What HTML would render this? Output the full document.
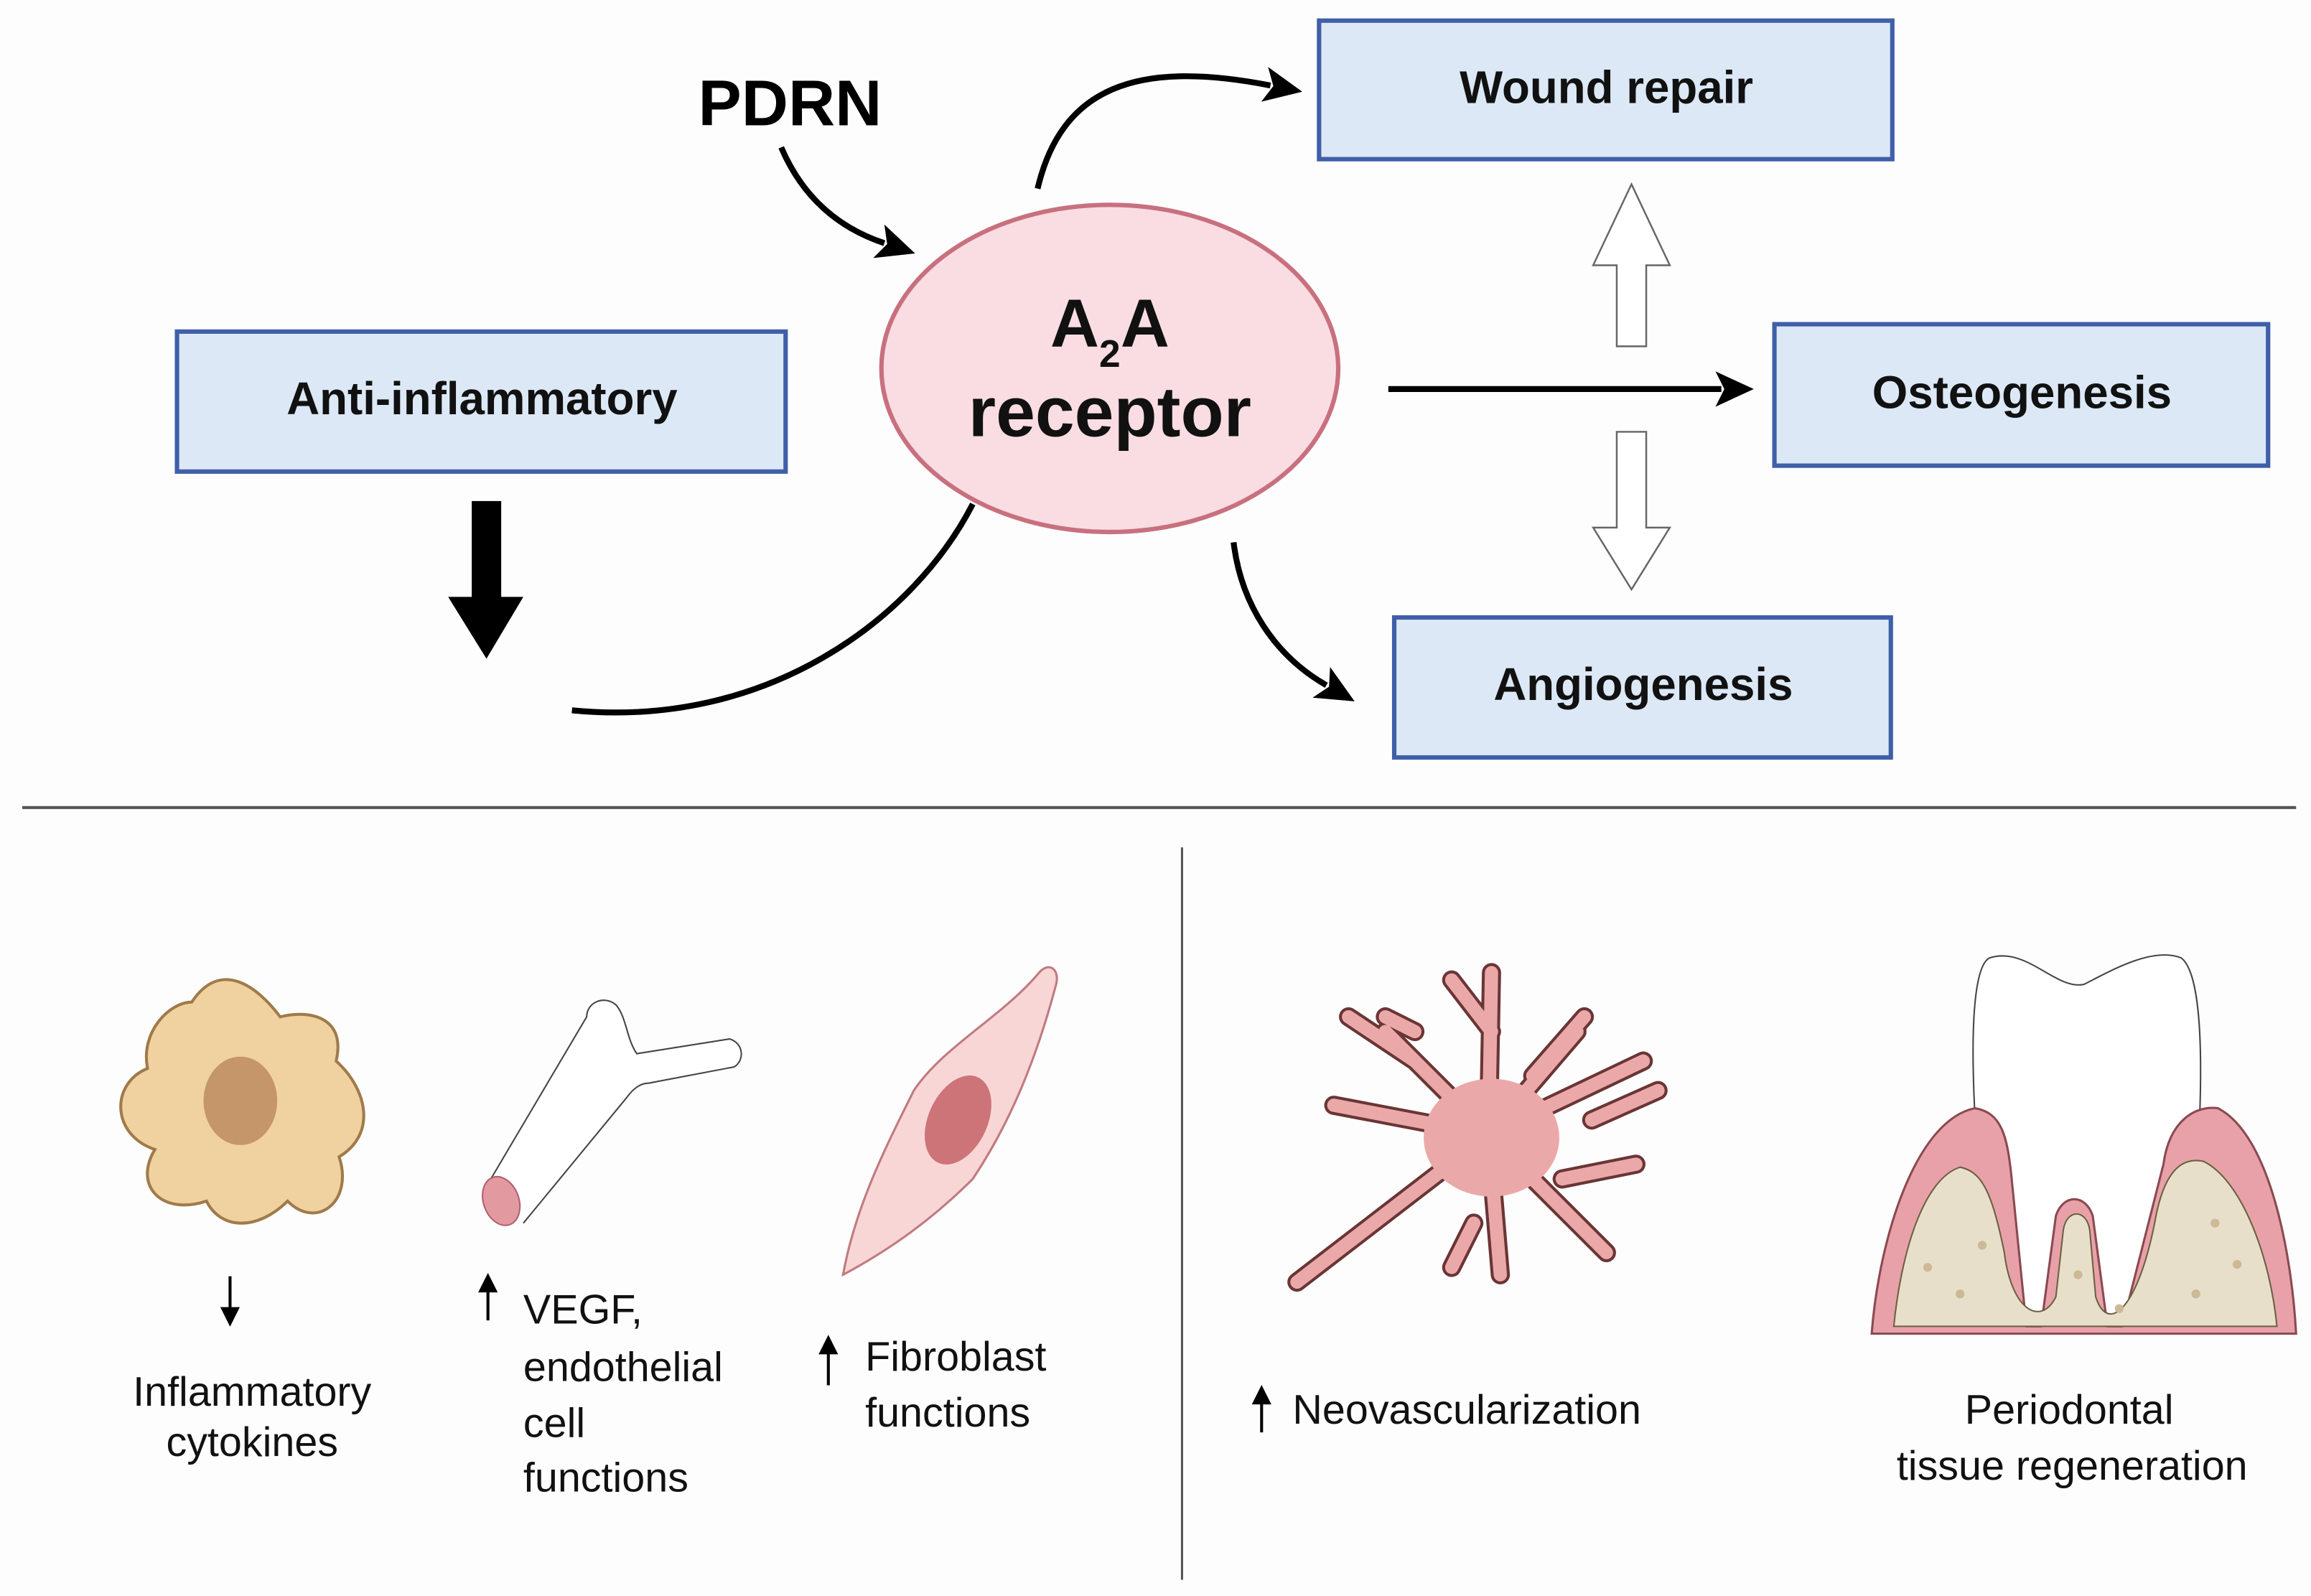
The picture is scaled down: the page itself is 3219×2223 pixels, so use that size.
<!DOCTYPE html>
<html><head><meta charset="utf-8"><style>
html,body{margin:0;padding:0;background:#fdfdfd}
svg{display:block}
text{font-family:"Liberation Sans",sans-serif}
</style></head><body>
<svg width="3219" height="2223" viewBox="0 0 1568 1083" xmlns="http://www.w3.org/2000/svg">
<defs>
<marker id="ah2" markerWidth="26" markerHeight="24" refX="4" refY="12" orient="auto" markerUnits="userSpaceOnUse">
<path d="M0,0 L26,12 L0,24 L6,12 Z" fill="#000"/></marker>
</defs>
<rect width="1568" height="1083" fill="#fdfdfd"/>
<g fill="#dce8f5" stroke="#3f5fa8" stroke-width="3">
<rect x="895" y="14" width="389" height="94"/>
<rect x="120" y="225" width="413" height="95"/>
<rect x="1204" y="220" width="335" height="96"/>
<rect x="946" y="419" width="337" height="95"/>
</g>
<g font-weight="bold" font-size="31" text-anchor="middle" fill="#111">
<text x="1090" y="70">Wound repair</text>
<text x="327" y="281">Anti-inflammatory</text>
<text x="1372" y="277">Osteogenesis</text>
<text x="1115" y="475">Angiogenesis</text>
</g>
<text x="536" y="85" font-weight="bold" font-size="44" text-anchor="middle" fill="#000">PDRN</text>
<ellipse cx="753" cy="250" rx="155" ry="111" fill="#f9dde3" stroke="#c8707e" stroke-width="3"/>
<text x="753" y="235" font-weight="bold" font-size="46" text-anchor="middle" fill="#111">A<tspan font-size="26" dy="14">2</tspan><tspan dy="-14">A</tspan></text>
<text x="753" y="296" font-weight="bold" font-size="48" text-anchor="middle" fill="#111">receptor</text>
<g fill="none" stroke="#000" stroke-width="4">
<path d="M530,100 C545,135 570,155 600,165" marker-end="url(#ah2)"/>
<path d="M704,128 C720,60 770,40 862,58" marker-end="url(#ah2)"/>
<path d="M942,264 L1168,264" marker-end="url(#ah2)"/>
<path d="M388,482 C520,495 620,420 660,342"/>
<path d="M837,368 C842,410 865,445 900,465" marker-end="url(#ah2)"/>
</g>
<rect x="320" y="340" width="20" height="66" fill="#000"/>
<path d="M304,405 L355,405 L330,447 Z" fill="#000"/>
<g fill="#fff" stroke="#666" stroke-width="1.2">
<path d="M1097,235 L1097,180 L1081,180 L1107,125 L1133,180 L1117,180 L1117,235 Z"/>
<path d="M1097,293 L1097,358 L1081,358 L1107,400 L1133,358 L1117,358 L1117,293 Z"/>
</g>
<line x1="15" y1="548" x2="1558" y2="548" stroke="#555" stroke-width="2"/>
<line x1="802" y1="575" x2="802" y2="1072" stroke="#555" stroke-width="1.5"/>
<path d="M130,680 C150,650 175,670 190,690 C210,685 235,690 228,720 C250,740 255,770 230,785 C240,815 215,835 195,815 C175,835 150,835 140,815 C110,825 90,805 105,780 C75,770 75,735 100,725 C95,700 115,680 130,680 Z" fill="#f0d1a0" stroke="#a07a4a" stroke-width="2"/>
<ellipse cx="163" cy="747" rx="25" ry="30" fill="#c4966a"/>
<path d="M330,805 L398,690 C398,680 410,675 418,682 C425,690 425,705 432,715 L495,705 C505,708 505,720 498,724 L440,735 C435,735 430,738 425,745 L355,830" fill="#fff" stroke="#444" stroke-width="1"/>
<ellipse cx="340" cy="815" rx="12" ry="17" transform="rotate(-20 340 815)" fill="#e29aa0" stroke="#b06070" stroke-width="1"/>
<path d="M572,865 C580,820 600,780 620,740 C640,710 680,690 705,660 C712,652 720,658 716,670 C700,730 680,770 660,800 C630,830 600,850 572,865 Z" fill="#f9d6d6" stroke="#c07a80" stroke-width="1.5"/>
<ellipse cx="650" cy="760" rx="20" ry="32" transform="rotate(25 650 760)" fill="#cd7478"/>
<g stroke-linecap="round" fill="none">
<path stroke="#6a3535" stroke-width="13" d="M1010,770 L880,870 M1010,770 L940,700 M1010,770 L1012,660 M1010,770 L1070,700 M1010,770 L1115,720 M1010,770 L1090,850 M1010,770 L1018,865 M1010,770 L905,750 M1012,700 L985,665 M1040,730 L1075,690 M960,720 L915,690 M1000,830 L985,860 M1080,760 L1125,740 M960,700 L940,690 M1060,800 L1110,790"/>
<path stroke="#eaa9a8" stroke-width="9" d="M1010,770 L880,870 M1010,770 L940,700 M1010,770 L1012,660 M1010,770 L1070,700 M1010,770 L1115,720 M1010,770 L1090,850 M1010,770 L1018,865 M1010,770 L905,750 M1012,700 L985,665 M1040,730 L1075,690 M960,720 L915,690 M1000,830 L985,860 M1080,760 L1125,740 M960,700 L940,690 M1060,800 L1110,790"/>
</g>
<ellipse cx="1012" cy="772" rx="46" ry="40" fill="#eaa9a8"/>
<path d="M1355,905 C1340,800 1330,660 1350,650 C1375,642 1395,672 1414,668 C1430,660 1460,642 1480,650 C1500,665 1495,780 1480,905 Z" fill="#fff"/>
<path d="M1355,905 C1340,800 1330,660 1350,650 C1375,642 1395,672 1414,668 C1430,660 1460,642 1480,650 C1500,665 1495,780 1480,905" fill="none" stroke="#444" stroke-width="1"/>
<path d="M1270,905 C1275,840 1300,760 1340,752 C1358,755 1362,770 1365,800 L1375,900 L1385,900 L1395,825 C1400,810 1415,810 1420,825 L1430,900 L1440,900 L1468,790 C1472,760 1490,750 1505,752 C1540,770 1555,850 1558,905 Z" fill="#e8a1a8" stroke="#8a4a50" stroke-width="1.5"/>
<path d="M1285,900 C1290,850 1305,800 1330,792 C1345,795 1352,810 1360,850 C1365,890 1385,900 1395,880 L1400,835 C1402,820 1416,820 1418,835 L1422,880 C1430,905 1450,890 1462,830 C1468,795 1480,785 1495,788 C1520,800 1540,850 1545,900 Z" fill="#e8dfcb" stroke="#6a6040" stroke-width="1"/>
<g fill="#cdb995">
<circle cx="1308" cy="860" r="3"/><circle cx="1330" cy="878" r="3"/><circle cx="1345" cy="845" r="3"/><circle cx="1410" cy="865" r="3"/><circle cx="1438" cy="888" r="3"/><circle cx="1490" cy="878" r="3"/><circle cx="1503" cy="830" r="3"/><circle cx="1518" cy="858" r="3"/>
</g>
<g stroke="#000" stroke-width="2" fill="#000">
<line x1="156" y1="866" x2="156" y2="892"/><path d="M151,888 L156,898 L161,888 Z"/>
<line x1="331" y1="872" x2="331" y2="896"/><path d="M326,876 L331,866 L336,876 Z"/>
<line x1="562" y1="914" x2="562" y2="940"/><path d="M557,918 L562,908 L567,918 Z"/>
<line x1="856" y1="950" x2="856" y2="972"/><path d="M851,952 L856,942 L861,952 Z"/>
</g>
<g font-size="28" fill="#111">
<text x="171" y="954" text-anchor="middle">Inflammatory</text>
<text x="171" y="988" text-anchor="middle">cytokines</text>
<text x="355" y="898">VEGF,</text>
<text x="355" y="937">endothelial</text>
<text x="355" y="975">cell</text>
<text x="355" y="1012">functions</text>
<text x="587" y="930">Fibroblast</text>
<text x="587" y="968">functions</text>
<text x="877" y="966">Neovascularization</text>
<text x="1404" y="966" text-anchor="middle">Periodontal</text>
<text x="1406" y="1004" text-anchor="middle">tissue regeneration</text>
</g>
</svg>
</body></html>
